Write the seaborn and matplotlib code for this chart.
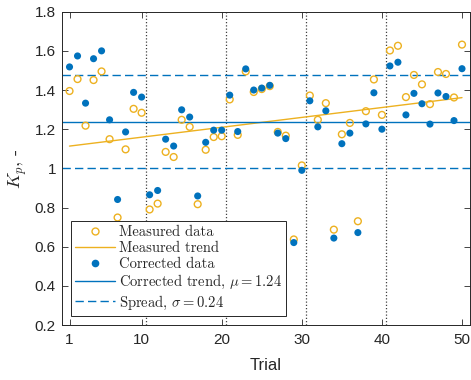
import numpy as np
import pandas as pd
import matplotlib
matplotlib.use("Agg")
import matplotlib.pyplot as plt
from matplotlib.lines import Line2D
from matplotlib.ticker import FuncFormatter
import seaborn as sns

# Data
trials = list(range(1, 51))
measured = [1.395, 1.456, 1.218, 1.451, 1.495, 1.149, 0.749, 1.097, 1.304, 1.284,
            0.790, 0.820, 1.084, 1.058, 1.248, 1.212, 0.817, 1.095, 1.160, 1.164,
            1.352, 1.171, 1.495, 1.390, 1.405, 1.420, 1.186, 1.167, 0.637, 1.015,
            1.372, 1.248, 1.333, 0.687, 1.174, 1.232, 0.730, 1.292, 1.454, 1.273,
            1.602, 1.626, 1.364, 1.477, 1.429, 1.328, 1.492, 1.482, 1.362, 1.632]
corrected = [1.518, 1.574, 1.333, 1.560, 1.600, 1.248, 0.841, 1.186, 1.388, 1.364,
             0.865, 0.887, 1.149, 1.114, 1.299, 1.262, 0.859, 1.133, 1.195, 1.195,
             1.374, 1.188, 1.508, 1.400, 1.410, 1.424, 1.180, 1.152, 0.621, 0.990,
             1.345, 1.212, 1.294, 0.644, 1.126, 1.180, 0.672, 1.227, 1.386, 1.200,
             1.523, 1.542, 1.273, 1.383, 1.330, 1.226, 1.385, 1.367, 1.244, 1.509]
mu = 1.238
sigma = 0.238
block_edges = [10.5, 20.5, 30.5, 40.5]
x_ticks = [1, 10, 20, 30, 40, 50]
y_ticks = [0.2, 0.4, 0.6, 0.8, 1.0, 1.2, 1.4, 1.6, 1.8]

BLUE = "#0072BD"
ORANGE = "#EDB120"
AXC = "#262626"

df = pd.DataFrame({"trial": trials, "measured": measured, "corrected": corrected})

sns.set_style("ticks")
plt.rcParams["font.family"] = ["Liberation Sans", "DejaVu Sans"]
plt.rcParams["mathtext.fontset"] = "cm"
plt.rcParams["axes.unicode_minus"] = False

fig = plt.figure(figsize=(4.71, 3.80), dpi=100)
ax = fig.add_axes([0.1306, 0.1447, 0.8673, 0.8245])

for xe in block_edges:
    ax.axvline(xe, color="#404040", lw=0.9, ls=(0, (1, 1.6)), zorder=1)

# measured data + trend
sns.scatterplot(data=df, x="trial", y="measured", ax=ax, marker="o",
                facecolors="none", edgecolor=ORANGE, linewidth=1.0, s=24, zorder=3)
sns.regplot(data=df, x="trial", y="measured", ax=ax, scatter=False, ci=None,
            truncate=True, line_kws={"color": ORANGE, "lw": 1.0, "zorder": 2})

# corrected data + mean and spread
sns.scatterplot(data=df, x="trial", y="corrected", ax=ax, color=BLUE,
                edgecolor="none", s=26, zorder=4)
ax.axhline(mu, color=BLUE, lw=1.0, zorder=2)
ax.axhline(mu + sigma, color=BLUE, lw=1.0, ls=(0, (6, 3)), zorder=2)
ax.axhline(mu - sigma, color=BLUE, lw=1.0, ls=(0, (6, 3)), zorder=2)

ax.set_xlim(0, 51)
ax.set_ylim(0.2, 1.8)
ax.set_xticks(x_ticks)
ax.set_yticks(y_ticks)
ax.yaxis.set_major_formatter(FuncFormatter(lambda v, p: f"{v:g}"))
ax.tick_params(direction="in", top=True, right=True, length=4, width=0.6,
               colors=AXC, labelsize=11, pad=6)
ax.tick_params(axis="y", pad=4)
for sp in ax.spines.values():
    sp.set_visible(True)
    sp.set_color(AXC)
    sp.set_linewidth(0.7)

ax.set_xlabel("Trial", fontsize=12, color=AXC, labelpad=8)
ax.set_ylabel(r"$K_p$, -", fontsize=13, fontfamily="cmr10", color=AXC, labelpad=4)

handles = [
    Line2D([], [], ls="none", marker="o", mfc="none", mec=ORANGE, mew=1.0, ms=5),
    Line2D([], [], color=ORANGE, lw=1.0),
    Line2D([], [], ls="none", marker="o", mfc=BLUE, mec="none", ms=5.5),
    Line2D([], [], color=BLUE, lw=1.0),
    Line2D([], [], color=BLUE, lw=1.0, ls=(0, (6, 3))),
]
labels = [
    "Measured data",
    "Measured trend",
    "Corrected data",
    rf"Corrected trend, $\mu = {mu:.2f}$",
    rf"Spread, $\sigma = {sigma:.2f}$",
]
leg = ax.legend(handles, labels, loc="lower left", bbox_to_anchor=(0.023, 0.029),
                borderaxespad=0, frameon=True, fancybox=False, framealpha=1,
                edgecolor=AXC, prop={"family": "cmr10", "size": 10.5},
                labelspacing=0.15, handlelength=2.7, handletextpad=0.3,
                borderpad=0.3)
leg.get_frame().set_linewidth(0.7)
leg.set_zorder(10)

fig.savefig("out.png", dpi=100)
